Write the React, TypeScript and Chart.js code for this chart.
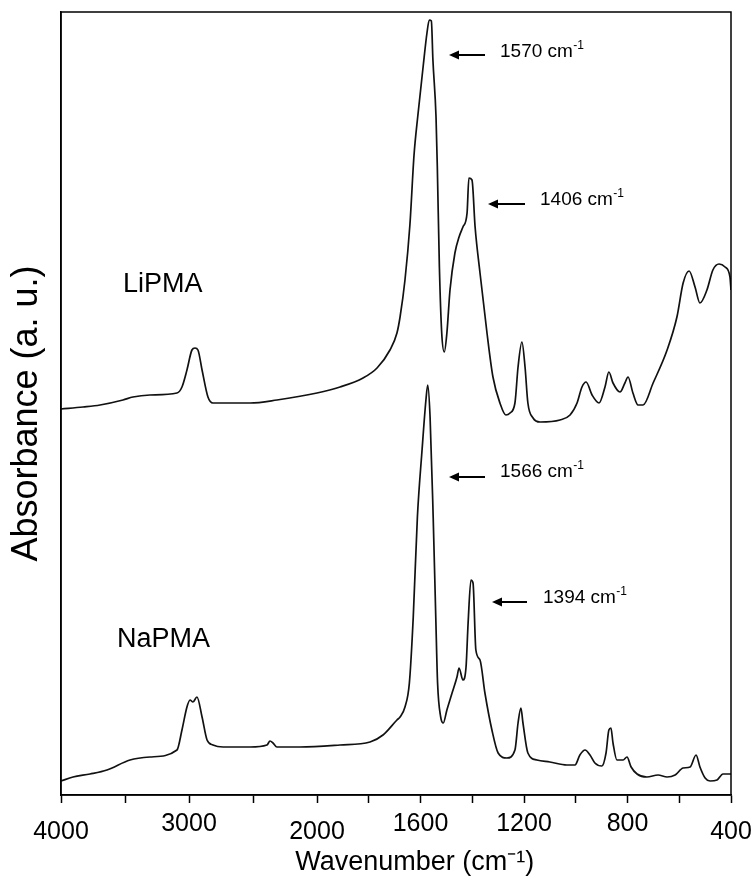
import { useEffect, useRef } from 'react';
import { Chart, registerables } from 'chart.js';

Chart.register(...registerables);

// ---- data (wavenumber in cm-1, absorbance in arbitrary units) ----
const liWavenumbers = [
  4000, 3828, 3695, 3516, 3438, 3305, 3094, 3055, 3016, 2977, 2953, 2930, 2898, 2852, 2813, 2523, 2313,
  2000, 1911, 1822, 1768, 1718, 1691, 1679, 1660, 1641, 1625, 1610, 1590, 1575, 1566, 1558, 1552, 1540,
  1535, 1527, 1518, 1508, 1498, 1486, 1467, 1451, 1436, 1420, 1413, 1401, 1389, 1370, 1343, 1320, 1293,
  1270, 1254, 1235, 1223, 1208, 1196, 1185, 1165, 1138, 1061, 1022, 995, 976, 960, 937, 910, 887, 872,
  856, 829, 810, 798, 779, 759, 740, 701, 647, 609, 585, 562, 539, 520, 493, 470, 446, 423, 404, 400,
];
const liAbsorbance = [
  38.6, 38.8, 39.0, 39.5, 39.8, 40.0, 40.2, 40.8, 42.5, 44.5, 44.7, 44.5, 42.5, 39.8, 39.2, 39.2, 39.5,
  40.2, 40.8, 41.7, 42.7, 44.5, 46.2, 47.8, 51.5, 57.0, 64.0, 68.0, 72.8, 76.2, 77.5, 77.4, 73.5, 67.8,
  62.8, 52.8, 46.2, 44.3, 46.2, 50.5, 54.2, 55.8, 56.8, 58.2, 61.7, 61.5, 56.8, 52.2, 46.2, 41.8, 39.2,
  38.0, 38.2, 39.2, 42.8, 45.3, 42.8, 39.2, 37.7, 37.3, 37.5, 38.0, 39.2, 40.8, 41.3, 40.0, 39.2, 40.8, 42.3,
  41.2, 40.3, 41.2, 41.8, 40.2, 39.0, 39.0, 41.2, 44.5, 47.8, 51.2, 52.4, 50.8, 49.2, 50.5, 52.5, 53.1, 52.8, 51.8, 50.5,
];

const naWavenumbers = [
  4000, 3906, 3773, 3641, 3461, 3305, 3094, 3055, 3016, 2992, 2969, 2938, 2898, 2859, 2813, 2734, 2523,
  2391, 2367, 2344, 2313, 2133, 1911, 1795, 1745, 1691, 1679, 1660, 1643, 1628, 1612, 1594, 1579, 1572,
  1563, 1551, 1541, 1534, 1522, 1512, 1498, 1478, 1459, 1451, 1436, 1424, 1416, 1405, 1397, 1386, 1370,
  1351, 1324, 1300, 1266, 1235, 1223, 1212, 1204, 1185, 1150, 1100, 1034, 1003, 984, 964, 945, 926, 899,
  883, 872, 864, 856, 841, 817, 802, 786, 763, 725, 682, 647, 616, 585, 558, 535, 520, 500, 481, 454, 431, 412, 400,
];
const naAbsorbance = [
  1.4, 1.8, 2.1, 2.5, 3.5, 3.8, 4.5, 6.5, 8.8, 9.5, 9.3, 9.8, 7.8, 5.5, 5.0, 4.8, 4.8,
  5.0, 5.4, 5.2, 4.8, 4.8, 5.0, 5.3, 6.0, 7.5, 7.8, 8.8, 11.2, 17.8, 27.8, 34.5, 39.5, 41.0,
  37.8, 27.8, 17.8, 11.2, 7.8, 7.2, 8.5, 10.2, 11.8, 12.7, 11.5, 12.8, 17.2, 21.5, 21.2, 14.5, 13.5,
  10.2, 6.5, 4.2, 3.7, 4.5, 7.2, 8.7, 7.2, 4.2, 3.5, 3.3, 3.0, 3.0, 4.0, 4.5, 4.0, 3.2, 2.9,
  4.2, 6.5, 6.7, 5.2, 3.5, 3.5, 3.8, 2.8, 2.1, 1.8, 2.0, 1.8, 2.0, 2.7, 2.8, 4.0, 2.8, 1.7, 1.4, 1.5, 2.1, 2.1, 2.1,
];

const tickWavenumbers = [4000, 3500, 3000, 2500, 2000, 1800, 1600, 1400, 1200, 1000, 800, 600, 400];
const tickLabels = ['4000', '', '3000', '', '2000', '', '1600', '', '1200', '', '800', '', '400'];
const lowTickLabels = ['4000', '2000', '400'];
const seriesNames = ['LiPMA', 'NaPMA'];
const peakLabels = ['1570', '1406', '1566', '1394'];

// broken wavenumber axis: 4000-2000 compressed, 2000-400 expanded
function toAxis(w: number): number {
  return w >= 2000 ? ((4000 - w) * 256) / 2000 : 256 + ((2000 - w) * 414) / 1600;
}

const FONT = '"Liberation Sans", Arial, Helvetica, sans-serif';
const NARROW = '"Liberation Sans Narrow", "Liberation Sans", Arial, sans-serif';

const annotPlugin = {
  id: 'annotPlugin',
  afterDraw(chart: any) {
    const { ctx, chartArea: a } = chart;
    ctx.save();
    ctx.strokeStyle = '#000';
    ctx.lineWidth = 1.5;
    ctx.strokeRect(a.left, a.top, a.right - a.left, a.bottom - a.top);

    ctx.fillStyle = '#000';
    ctx.textBaseline = 'middle';
    ctx.textAlign = 'left';
    ctx.font = `27px ${FONT}`;
    ctx.fillText(seriesNames[0], 123, 285);
    ctx.fillText(seriesNames[1], 117, 640);

    const arrows = [
      { x1: 449, x2: 485, y: 55, tx: 500, ty: 50, label: peakLabels[0] },
      { x1: 488, x2: 525, y: 204, tx: 540, ty: 198, label: peakLabels[1] },
      { x1: 449, x2: 485, y: 477, tx: 500, ty: 470, label: peakLabels[2] },
      { x1: 492, x2: 527, y: 602, tx: 543, ty: 596, label: peakLabels[3] },
    ];
    for (const ar of arrows) {
      ctx.lineWidth = 2;
      ctx.beginPath();
      ctx.moveTo(ar.x1 + 8, ar.y);
      ctx.lineTo(ar.x2, ar.y);
      ctx.stroke();
      ctx.beginPath();
      ctx.moveTo(ar.x1, ar.y);
      ctx.lineTo(ar.x1 + 10, ar.y - 4.5);
      ctx.lineTo(ar.x1 + 10, ar.y + 4.5);
      ctx.closePath();
      ctx.fill();
      ctx.textBaseline = 'alphabetic';
      ctx.font = `19px ${FONT}`;
      const txt = `${ar.label} cm`;
      ctx.fillText(txt, ar.tx, ar.ty + 7);
      const w = ctx.measureText(txt).width;
      ctx.font = `12px ${FONT}`;
      ctx.fillText('-1', ar.tx + w + 0.5, ar.ty - 1);
    }
    ctx.restore();
  },
};

export default function App() {
  const ref = useRef<HTMLCanvasElement | null>(null);
  useEffect(() => {
    document.body.style.margin = '0';
    const canvas = ref.current;
    if (!canvas) return;
    const chart = new Chart(canvas, {
      type: 'line',
      data: {
        datasets: [
          {
            label: seriesNames[0],
            data: liWavenumbers.map((w, i) => ({ x: toAxis(w), y: liAbsorbance[i] })),
            borderColor: '#111',
            borderWidth: 1.7,
            pointRadius: 0,
            fill: false,
            cubicInterpolationMode: 'monotone',
          },
          {
            label: seriesNames[1],
            data: naWavenumbers.map((w, i) => ({ x: toAxis(w), y: naAbsorbance[i] })),
            borderColor: '#111',
            borderWidth: 1.7,
            pointRadius: 0,
            fill: false,
            cubicInterpolationMode: 'monotone',
          },
        ],
      },
      options: {
        responsive: false,
        animation: false,
        devicePixelRatio: 1,
        layout: { padding: { top: 12, right: 21, left: 0, bottom: 0 } },
        plugins: { legend: { display: false }, tooltip: { enabled: false } },
        scales: {
          x: {
            type: 'linear',
            min: 0,
            max: 670,
            afterBuildTicks: (s: any) => {
              s.ticks = tickWavenumbers.map((w) => ({ value: toAxis(w) }));
            },
            afterFit: (s: any) => {
              s.height = 95;
              s.paddingLeft = 0;
              s.paddingRight = 0;
            },
            ticks: {
              autoSkip: false,
              maxRotation: 0,
              minRotation: 0,
              padding: 7,
              color: '#000',
              font: (c: any) => {
                const lbl = c && typeof c.index === 'number' ? tickLabels[c.index] : '';
                return {
                  family: NARROW,
                  size: 25,
                  lineHeight: lowTickLabels.includes(lbl) ? '44px' : '28px',
                };
              },
              callback: (_v: any, i: number) => tickLabels[i],
            },
            grid: {
              display: true,
              drawOnChartArea: false,
              drawTicks: true,
              tickLength: 8,
              tickColor: '#000',
              tickWidth: 1.5,
            },
            border: { display: true, color: '#000', width: 1.5 },
            title: {
              display: true,
              text: '     Wavenumber (cm\u207B\u00B9)',
              color: '#000',
              font: { family: FONT, size: 27 },
              padding: { top: 0, bottom: 11 },
            },
          },
          y: {
            min: 0,
            max: 78.3,
            afterFit: (s: any) => {
              s.width = 61;
            },
            ticks: { display: false },
            grid: { display: false, drawTicks: false },
            border: { display: true, color: '#000', width: 1.5 },
            title: {
              display: true,
              text: 'Absorbance (a. u.)  ',
              color: '#000',
              font: { family: FONT, size: 36 },
              padding: { top: 5, bottom: 0 },
            },
          },
        },
      },
      plugins: [annotPlugin],
    } as any);
    return () => chart.destroy();
  }, []);
  return (
    <div style={{ width: 752, height: 890, background: '#fff' }}>
      <canvas ref={ref} width={752} height={890} style={{ display: 'block' }} />
    </div>
  );
}
